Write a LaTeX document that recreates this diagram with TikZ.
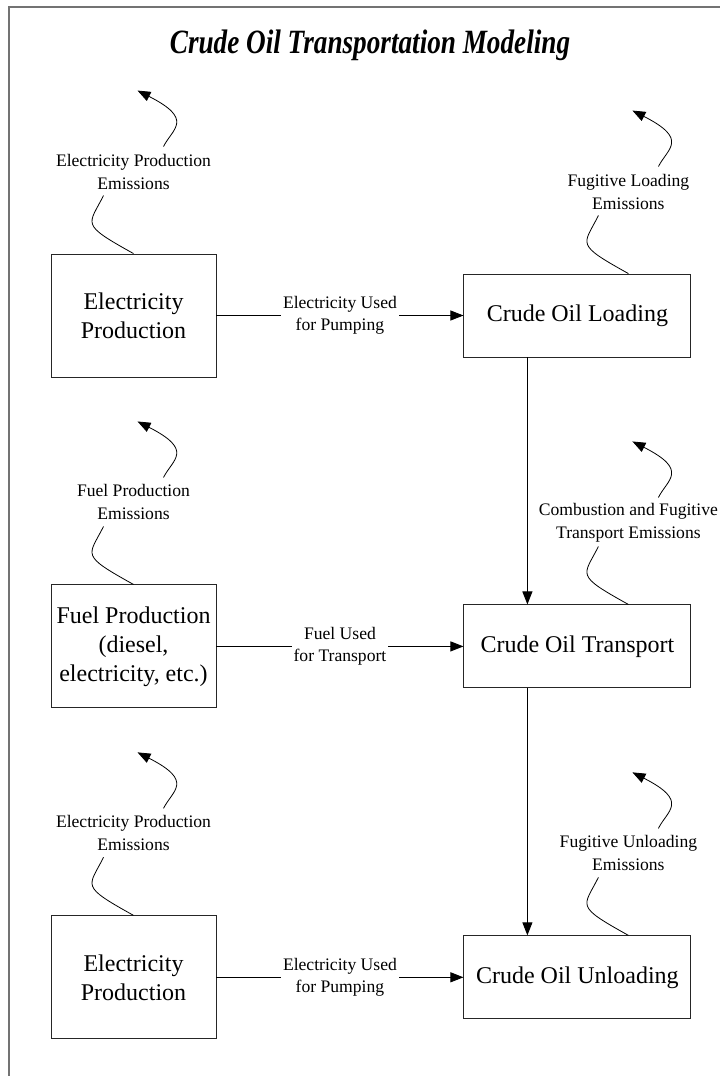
\documentclass[tikz,border=0pt]{standalone}
\usepackage{fontspec}
\setmainfont{Liberation Serif}
\newfontfamily\titlefont[FakeStretch=0.8]{Liberation Serif}
\usetikzlibrary{
  arrows.meta,
  positioning
}
\tikzset{
  procbox/.style={draw=black!85, line width=0.9pt,
    minimum width=165pt, minimum height=123pt,
    align=center, font=\fontsize{24}{29}\selectfont},
  stagebox/.style={draw=black!85, line width=0.9pt,
    minimum width=227pt, minimum height=83pt,
    align=center, font=\fontsize{24}{29}\selectfont},
  emlabel/.style={align=center, inner sep=1pt,
    font=\fontsize{17.6}{23}\selectfont},
  flowlabel/.style={fill=white, align=center, inner xsep=2pt, inner ysep=1pt,
    font=\fontsize{17.6}{22}\selectfont},
  arr/.style={-{Triangle[length=13pt,width=10pt]}, line width=0.9pt},
  emarr/.style={-{Triangle[length=13pt,width=10pt]}, line width=0.8pt},
  emline/.style={line width=0.8pt},
  frameline/.style={draw=black!55, line width=1.6pt},
}

\begin{document}
\begin{tikzpicture}[x=1pt, y=1pt, node distance=207pt]
  \useasboundingbox (0,0) rectangle (720,-1076);
  % Frame and title
  \draw[frameline] (9,-1076) -- (9,-7) -- (720,-7);
  \node[font=\titlefont\bfseries\itshape\fontsize{34}{40}\selectfont] (title)
    at (370,-45) {Crude Oil Transportation Modeling};

  % Production boxes
  \node[procbox] (elec1) at (133.5,-315.5) {Electricity\\Production};
  \node[procbox, below=of elec1] (fuel) {Fuel Production\\(diesel,\\electricity, etc.)};
  \node[procbox, below=of fuel] (elec2) {Electricity\\Production};

  % Crude oil stages
  \node[stagebox, right=247pt of elec1] (load) {Crude Oil Loading};
  \node[stagebox, right=247pt of fuel] (trans) {Crude Oil Transport};
  \node[stagebox, right=247pt of elec2] (unload) {Crude Oil Unloading};

  \draw[arr] (elec1) -- node[flowlabel] {Electricity Used\\for Pumping} (load);
  \draw[arr] (fuel) -- node[flowlabel] {Fuel Used\\for Transport} (trans);
  \draw[arr] (elec2) -- node[flowlabel] {Electricity Used\\for Pumping} (unload);
  \draw[arr] ([xshift=-50pt]load.south) -- ([xshift=-50pt]trans.north);
  \draw[arr] ([xshift=-50pt]trans.south) -- ([xshift=-50pt]unload.north);

  % Emissions, left column
  \node[emlabel] (elec1em) at ([yshift=82pt]elec1.north) {Electricity Production\\Emissions};
  \coordinate (elec1tip) at ([xshift=4pt,yshift=163pt]elec1.north);
  \draw[emline] (elec1.north) .. controls +(-54,30) and +(-15,-30) .. ([xshift=-30pt,yshift=-24pt]elec1em.center);
  \draw[emarr] ([xshift=30pt,yshift=25pt]elec1em.center) .. controls +(9,18) and +(57,-29) .. (elec1tip);

  \node[emlabel] (fuelem) at ([yshift=82pt]fuel.north) {Fuel Production\\Emissions};
  \coordinate (fueltip) at ([xshift=4pt,yshift=163pt]fuel.north);
  \draw[emline] (fuel.north) .. controls +(-54,30) and +(-15,-30) .. ([xshift=-30pt,yshift=-24pt]fuelem.center);
  \draw[emarr] ([xshift=30pt,yshift=25pt]fuelem.center) .. controls +(9,18) and +(57,-29) .. (fueltip);

  \node[emlabel] (elec2em) at ([yshift=82pt]elec2.north) {Electricity Production\\Emissions};
  \coordinate (elec2tip) at ([xshift=4pt,yshift=163pt]elec2.north);
  \draw[emline] (elec2.north) .. controls +(-54,30) and +(-15,-30) .. ([xshift=-30pt,yshift=-24pt]elec2em.center);
  \draw[emarr] ([xshift=30pt,yshift=25pt]elec2em.center) .. controls +(9,18) and +(57,-29) .. (elec2tip);

  % Emissions, right column
  \node[emlabel] (loadem) at ([xshift=51pt,yshift=82pt]load.north) {Fugitive Loading\\Emissions};
  \coordinate (loadtip) at ([xshift=55pt,yshift=163pt]load.north);
  \draw[emline] ([xshift=51pt]load.north) .. controls +(-54,30) and +(-15,-30) .. ([xshift=-30pt,yshift=-24pt]loadem.center);
  \draw[emarr] ([xshift=30pt,yshift=25pt]loadem.center) .. controls +(9,18) and +(57,-29) .. (loadtip);

  \node[emlabel] (transem) at ([xshift=51pt,yshift=82pt]trans.north) {Combustion and Fugitive\\Transport Emissions};
  \coordinate (transtip) at ([xshift=55pt,yshift=163pt]trans.north);
  \draw[emline] ([xshift=51pt]trans.north) .. controls +(-54,30) and +(-15,-30) .. ([xshift=-30pt,yshift=-24pt]transem.center);
  \draw[emarr] ([xshift=30pt,yshift=25pt]transem.center) .. controls +(9,18) and +(57,-29) .. (transtip);

  \node[emlabel] (unloadem) at ([xshift=51pt,yshift=82pt]unload.north) {Fugitive Unloading\\Emissions};
  \coordinate (unloadtip) at ([xshift=55pt,yshift=163pt]unload.north);
  \draw[emline] ([xshift=51pt]unload.north) .. controls +(-54,30) and +(-15,-30) .. ([xshift=-30pt,yshift=-24pt]unloadem.center);
  \draw[emarr] ([xshift=30pt,yshift=25pt]unloadem.center) .. controls +(9,18) and +(57,-29) .. (unloadtip);
\end{tikzpicture}
\end{document}
